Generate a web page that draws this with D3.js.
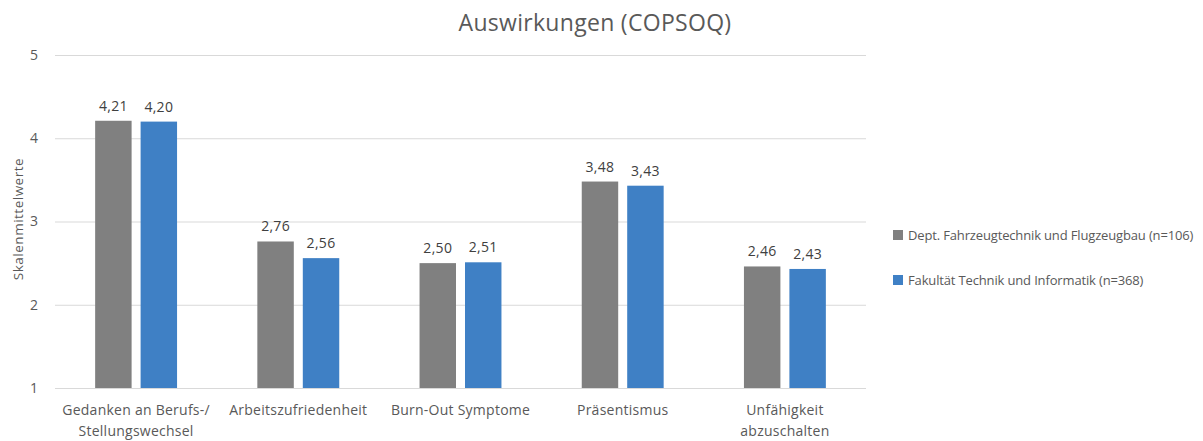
<!DOCTYPE html>
<html><head><meta charset="utf-8">
<script src="https://cdn.jsdelivr.net/npm/d3@7"></script>
<style>body{margin:0;background:#fff;}text{font-family:"Open Sans",sans-serif;}</style>
</head><body>
<svg id="c" width="1203" height="441"></svg>
<script>
const categories = [["Gedanken an Berufs-/","Stellungswechsel"],["Arbeitszufriedenheit"],["Burn-Out Symptome"],["Präsentismus"],["Unfähigkeit","abzuschalten"]];
const seriesNames = ["Dept. Fahrzeugtechnik und Flugzeugbau (n=106)","Fakultät Technik und Informatik (n=368)"];
const deptValues = [4.21, 2.76, 2.50, 3.48, 2.46];
const fakValues = [4.20, 2.56, 2.51, 3.43, 2.43];
const yTicks = [1,2,3,4,5];
const colors = ["#808080","#3f80c5"];

(function(){
const svg = d3.select("#c");
const mL = 55, mR = 866, mT = 55, mB = 388;
const x0 = d3.scaleBand().domain(d3.range(categories.length)).range([mL,mR]).paddingInner(0.495).paddingOuter(0.2475);
const x1 = d3.scaleBand().domain([0,1]).range([0,x0.bandwidth()]).paddingInner(0.198);
const y = d3.scaleLinear().domain([1,5]).range([mB,mT]);
const fmt = v => d3.format(".2f")(v).replace(".",",");

svg.append("text").attr("x",595).attr("y",31).attr("text-anchor","middle").attr("font-size",23).attr("letter-spacing",0.3).attr("fill","#595959").text("Auswirkungen (COPSOQ)");

const yAxis = svg.append("g").attr("transform",`translate(${mL},0)`)
  .call(d3.axisLeft(y).tickValues(yTicks).tickSize(-(mR-mL)).tickFormat(d3.format("d")));
yAxis.select(".domain").remove();
yAxis.selectAll("line").attr("stroke","#d9d9d9").attr("stroke-width",1);
yAxis.selectAll("text").attr("x",-17).attr("font-size",14).attr("fill","#595959").attr("font-family","Open Sans");

svg.append("text").attr("transform","translate(23,219) rotate(-90)").attr("text-anchor","middle").attr("font-size",13.5).attr("letter-spacing",0.5).attr("fill","#595959").text("Skalenmittelwerte");

const series = [deptValues, fakValues];
series.forEach((vals,si)=>{
  const g = svg.append("g");
  g.selectAll("rect").data(vals).join("rect")
    .attr("x",(d,i)=>x0(i)+x1(si)).attr("width",x1.bandwidth())
    .attr("y",d=>y(d)).attr("height",d=>y(1)-y(d))
    .attr("fill",colors[si]);
  g.selectAll("text").data(vals).join("text")
    .attr("x",(d,i)=>x0(i)+x1(si)+x1.bandwidth()/2).attr("y",d=>y(d)-10)
    .attr("text-anchor","middle").attr("font-size",14).attr("letter-spacing",0.3).attr("fill","#404040").text(fmt);
});

const xl = svg.append("g");
categories.forEach((lines,i)=>{
  const t = xl.append("text").attr("x",x0(i)+x0.bandwidth()/2).attr("y",415).attr("text-anchor","middle").attr("font-size",14).attr("letter-spacing",0.25).attr("fill","#595959");
  lines.forEach((l,j)=>t.append("tspan").attr("x",x0(i)+x0.bandwidth()/2).attr("dy",j?21:0).text(l));
});

const lg = svg.append("g");
seriesNames.forEach((n,i)=>{
  const yy = 235 + i*45;
  lg.append("rect").attr("x",893).attr("y",yy-5).attr("width",10).attr("height",10).attr("fill",colors[i]);
  lg.append("text").attr("x",908).attr("y",yy+5).attr("font-size",13).attr("letter-spacing",-0.15).attr("fill","#595959").text(n);
});
})();
</script>
</body></html>
